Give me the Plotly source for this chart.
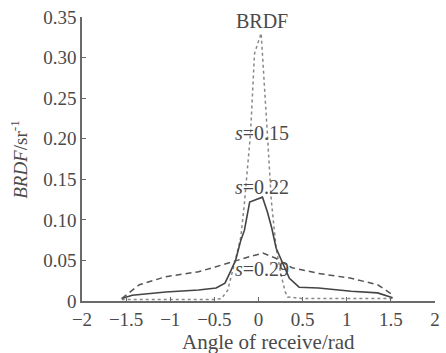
import plotly.graph_objects as go

# s = 0.15 (dotted)
x_s015 = [-1.55, -1.0, -0.5, -0.42, -0.35, -0.27, -0.2, -0.16, -0.09, -0.045, 0.03, 0.1, 0.145, 0.2, 0.25, 0.3, 0.33, 0.5, 1.0, 1.52]
y_s015 = [0.002, 0.002, 0.002, 0.003, 0.013, 0.047, 0.079, 0.12, 0.207, 0.305, 0.33, 0.207, 0.124, 0.065, 0.035, 0.012, 0.005, 0.003, 0.003, 0.003]

# s = 0.22 (solid)
x_s022 = [-1.55, -1.43, -1.05, -0.68, -0.48, -0.38, -0.31, -0.26, -0.2, -0.16, -0.1, 0.045, 0.1, 0.15, 0.2, 0.27, 0.35, 0.46, 0.68, 1.05, 1.35, 1.52]
y_s022 = [0.003, 0.007, 0.011, 0.0135, 0.016, 0.022, 0.038, 0.05, 0.075, 0.087, 0.122, 0.128, 0.11, 0.09, 0.065, 0.047, 0.028, 0.017, 0.016, 0.012, 0.01, 0.004]

# s = 0.29 (dashed)
x_s029 = [-1.55, -1.35, -1.05, -0.68, -0.49, -0.31, -0.09, 0.05, 0.19, 0.38, 0.68, 1.05, 1.35, 1.53]
y_s029 = [0.003, 0.02, 0.03, 0.036, 0.042, 0.048, 0.055, 0.059, 0.053, 0.041, 0.034, 0.028, 0.02, 0.007]

x_ticks = [-2, -1.5, -1, -0.5, 0, 0.5, 1, 1.5, 2]
x_ticktext = ["\u22122", "\u22121.5", "\u22121", "\u22120.5", "0", "0.5", "1", "1.5", "2"]
y_ticks = [0, 0.05, 0.10, 0.15, 0.20, 0.25, 0.30, 0.35]
y_ticktext = ["0", "0.05", "0.10", "0.15", "0.20", "0.25", "0.30", "0.35"]

labels = ["BRDF", "<i>s</i>=0.15", "<i>s</i>=0.22", "<i>s</i>=0.29"]
label_y = [0.345, 0.207, 0.14, 0.039]

FONT = "Liberation Serif, Times New Roman, serif"
TXT = "#4a4a4a"
AX = "#6a6a6a"

fig = go.Figure()
fig.add_trace(go.Scatter(x=x_s015, y=y_s015, mode="lines",
                         line=dict(color="#888888", width=1.5, dash="dot")))
fig.add_trace(go.Scatter(x=x_s022, y=y_s022, mode="lines",
                         line=dict(color="#444444", width=1.6)))
fig.add_trace(go.Scatter(x=x_s029, y=y_s029, mode="lines",
                         line=dict(color="#555555", width=1.5, dash="6px,4px")))

for t, yy in zip(labels, label_y):
    fig.add_annotation(x=0.045, y=yy, xref="x", yref="y", text=t, showarrow=False,
                       xanchor="center", yanchor="middle",
                       font=dict(family=FONT, size=20, color=TXT))

fig.add_annotation(x=-0.179, y=0.5, xref="paper", yref="paper", textangle=-90,
                   xanchor="center", yanchor="middle",
                   text="<i>BRDF</i>/sr<sup>-1</sup>", showarrow=False,
                   font=dict(family=FONT, size=19, color=TXT))
fig.add_annotation(x=0.528, y=-0.144, xref="paper", yref="paper",
                   xanchor="center", yanchor="middle",
                   text="Angle of receive/rad", showarrow=False,
                   font=dict(family=FONT, size=21, color=TXT))

fig.update_layout(
    width=446, height=353,
    margin=dict(l=82, r=6, t=17, b=52),
    paper_bgcolor="white", plot_bgcolor="white",
    showlegend=False,
    font=dict(family=FONT, size=19, color=TXT),
    xaxis=dict(range=[-2, 2], tickvals=x_ticks, ticktext=x_ticktext,
               showgrid=False, zeroline=False, showline=True, linecolor=AX, linewidth=1.5,
               ticks="inside", ticklen=4, tickcolor=AX, ticklabeloverflow="allow"),
    yaxis=dict(range=[0, 0.35], tickvals=y_ticks, ticktext=y_ticktext,
               showgrid=False, zeroline=False, showline=True, linecolor=AX, linewidth=1.5,
               ticks="inside", ticklen=4, tickcolor=AX, ticklabeloverflow="allow"),
)

fig.write_html(
    "out.html",
    config={"displayModeBar": False},
    post_script="document.body.style.margin='0';document.body.style.overflow='hidden';",
)
